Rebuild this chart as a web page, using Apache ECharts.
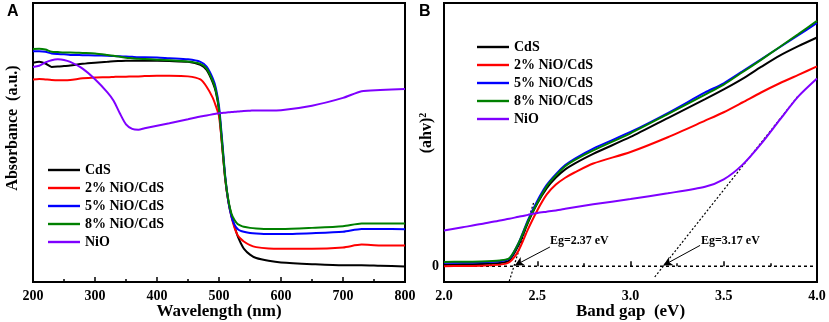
<!DOCTYPE html>
<html><head><meta charset="utf-8">
<script src="https://cdn.jsdelivr.net/npm/echarts@6/dist/echarts.min.js"></script>
<style>html,body{margin:0;padding:0;background:#fff}#c{width:829px;height:322px}</style>
</head><body><div id="c"></div>
<script>
// ---------- data ----------
const seriesNames = ['CdS', '2% NiO/CdS', '5% NiO/CdS', '8% NiO/CdS', 'NiO'];

// Panel A: UV-vis absorbance (a.u.)
const wavelength = [200,210,220,230,240,250,260,280,300,320,330,340,350,360,370,380,400,420,450,470,480,490,495,500,505,510,515,520,525,530,535,540,550,560,580,600,650,700,730,760,800];
const absCdS  = [.786,.789,.783,.771,.772,.774,.776,.782,.786,.789,.791,.792,.793,.793,.793,.793,.793,.792,.789,.778,.760,.715,.680,.615,.490,.370,.290,.240,.200,.165,.140,.120,.098,.086,.076,.070,.064,.060,.060,.058,.056];
const abs2    = [.726,.728,.726,.724,.723,.723,.724,.730,.733,.734,.735,.736,.736,.737,.737,.738,.739,.739,.737,.726,.700,.660,.630,.595,.490,.370,.290,.235,.195,.168,.155,.145,.132,.125,.120,.119,.119,.124,.134,.131,.131];
const abs5    = [.827,.827,.825,.819,.817,.816,.814,.813,.812,.811,.810,.809,.808,.807,.806,.806,.805,.802,.798,.789,.772,.730,.695,.630,.510,.380,.290,.235,.205,.190,.183,.180,.176,.174,.172,.172,.175,.180,.190,.190,.189];
const abs8    = [.835,.836,.833,.825,.824,.823,.823,.821,.819,.814,.811,.807,.804,.802,.800,.799,.797,.795,.790,.782,.765,.720,.685,.620,.500,.375,.295,.245,.222,.208,.202,.198,.194,.192,.190,.190,.194,.200,.210,.210,.210];
const absNiO  = [.771,.775,.787,.795,.798,.796,.789,.765,.727,.680,.650,.605,.565,.549,.546,.551,.560,.569,.583,.593,.597,.601,.603,.605,.606,.607,.608,.609,.610,.611,.612,.613,.614,.615,.615,.616,.632,.660,.684,.688,.692];

// Panel B: Tauc plot (ahv)^2
const bandGap = [2.0,2.1,2.2,2.3,2.35,2.4,2.45,2.5,2.55,2.6,2.65,2.7,2.8,3.0,3.2,3.4,3.5,3.6,3.7,3.8,3.9,4.0];
const taucCdS = [.006,.007,.008,.012,.022,.080,.165,.238,.296,.337,.368,.390,.427,.491,.563,.635,.672,.712,.757,.800,.836,.869];
const tauc2   = [.000,.001,.002,.006,.015,.060,.140,.212,.272,.310,.336,.356,.390,.434,.490,.553,.585,.622,.660,.695,.727,.759];
const tauc5   = [.013,.014,.015,.019,.028,.088,.175,.248,.308,.350,.384,.408,.447,.510,.582,.660,.695,.740,.786,.832,.878,.924];
const tauc8   = [.016,.017,.018,.022,.030,.088,.170,.240,.303,.345,.380,.403,.440,.505,.578,.652,.690,.737,.784,.833,.882,.932];
const taucNiO = [.136,.148,.160,.174,.180,.188,.195,.202,.207,.212,.218,.224,.235,.255,.277,.302,.330,.385,.465,.556,.645,.713];

// helper lines and annotations (panel B)
const baseline   = [[2.0, 0], [4.0, 0]];
const tangentCdS = [[2.35, -0.057], [2.48, 0.24]];
const tangentNiO = [[3.13, -0.041], [3.9, 0.648]];
const egLabels   = [{ name: 'Eg=2.37 eV', coord: [2.568, 0.098] }, { name: 'Eg=3.17 eV', coord: [3.378, 0.098] }];
const egArrows   = [[[2.568, 0.073], [2.38, 0.003]], [[3.373, 0.079], [3.176, 0.003]]];

// ---------- chart ----------
const colors = ['#000000', '#ff0000', '#0000ff', '#008000', '#7f00ff'];
const serif = '"Liberation Serif", "Times New Roman", serif';
const sans = '"Liberation Sans", Arial, sans-serif';
const pairs = (xs, ys) => xs.map((x, i) => [x, ys[i]]);

const absData = [absCdS, abs2, abs5, abs8, absNiO];
const taucData = [taucCdS, tauc2, tauc5, tauc8, taucNiO];

const lineSeries = (name, i, data, idx) => ({
  name, type: 'line', xAxisIndex: idx, yAxisIndex: idx, data,
  symbol: 'none', showSymbol: false, smooth: 0.25,
  lineStyle: { color: colors[i], width: 2 }, itemStyle: { color: colors[i] },
  z: 3
});

const series = [];
seriesNames.forEach((n, i) => series.push(lineSeries(n, i, pairs(wavelength, absData[i]), 0)));
seriesNames.forEach((n, i) => series.push(lineSeries(n, i, pairs(bandGap, taucData[i]), 1)));

series.push({
  type: 'line', xAxisIndex: 1, yAxisIndex: 1, data: baseline, symbol: 'none', z: 2,
  lineStyle: { color: '#000', width: 1.5, type: [3, 3] },
  markLine: {
    silent: true, animation: false, symbol: ['none', 'arrow'], symbolSize: [7, 9],
    lineStyle: { color: '#000', width: 1, type: 'solid' }, label: { show: false },
    data: egArrows.map(a => [{ coord: a[0] }, { coord: a[1] }])
  },
  markPoint: {
    silent: true, animation: false, symbol: 'circle', symbolSize: 0,
    label: { show: true, position: 'right', distance: 0, formatter: p => p.name,
      fontFamily: serif, fontWeight: 'bold', fontSize: 12, color: '#000' },
    data: egLabels
  }
});
series.push({ type: 'line', xAxisIndex: 1, yAxisIndex: 1, data: tangentCdS, symbol: 'none', z: 2,
  lineStyle: { color: '#000', width: 1.2, type: [2, 2] } });
series.push({ type: 'line', xAxisIndex: 1, yAxisIndex: 1, data: tangentNiO, symbol: 'none', z: 2,
  lineStyle: { color: '#000', width: 1.2, type: [2, 2] } });

const labelFont = { fontFamily: serif, fontWeight: 'bold', fontSize: 14, color: '#000' };
const nameFont = { fontFamily: serif, fontWeight: 'bold', fontSize: 17, color: '#000' };

const xAxisBase = {
  type: 'value', axisLine: { show: false },
  axisTick: { show: true, inside: true, length: 5, lineStyle: { color: '#000', width: 1.5 } },
  minorTick: { show: true, splitNumber: 2, length: 3, lineStyle: { color: '#000', width: 1.5 } },
  splitLine: { show: false }, minorSplitLine: { show: false },
  axisLabel: Object.assign({ margin: 7 }, labelFont),
  nameLocation: 'middle', nameGap: 21, nameMoveOverlap: false, nameTextStyle: nameFont
};

const legendBase = {
  data: seriesNames, orient: 'vertical', itemWidth: 32, itemHeight: 14, itemGap: 4,
  icon: 'path://M0,0H32V2.4H0Z',
  selectedMode: false, textStyle: Object.assign({}, labelFont)
};

const gridBase = { top: 3, height: 279, show: true, borderColor: '#000', borderWidth: 2,
  backgroundColor: 'transparent', containLabel: false, outerBoundsMode: 'none' };

const option = {
  animation: false,
  backgroundColor: '#fff',
  grid: [
    Object.assign({}, gridBase, { left: 33, width: 372 }),
    Object.assign({}, gridBase, { left: 444, width: 373 })
  ],
  xAxis: [
    Object.assign({}, xAxisBase, { gridIndex: 0, min: 200, max: 800, interval: 100, name: 'Wavelength (nm)' }),
    Object.assign({}, xAxisBase, { gridIndex: 1, min: 2.0, max: 4.0, interval: 0.5, name: 'Band gap  (eV)',
      axisLabel: Object.assign({ margin: 7, formatter: v => v.toFixed(1) }, labelFont) })
  ],
  yAxis: [
    { type: 'value', gridIndex: 0, min: 0, max: 1, axisLine: { show: false }, axisTick: { show: false },
      axisLabel: { show: false }, splitLine: { show: false } },
    { type: 'value', gridIndex: 1, min: -0.06, max: 1, interval: 0.06, axisLine: { show: false }, axisTick: { show: false },
      splitLine: { show: false },
      axisLabel: Object.assign({ margin: 5, formatter: v => (Math.abs(v) < 1e-9 ? '0' : '') }, labelFont) }
  ],
  legend: [
    Object.assign({}, legendBase, { left: 43, top: 158 }),
    Object.assign({}, legendBase, { left: 472, top: 35 })
  ],
  graphic: [
    { type: 'text', left: 7, top: 4, style: { text: 'A', font: 'bold 16px ' + sans, fill: '#000' } },
    { type: 'text', left: 419, top: 4, style: { text: 'B', font: 'bold 16px ' + sans, fill: '#000' } },
    { type: 'text', x: 13, y: 128, rotation: Math.PI / 2,
      style: { text: 'Absorbance  (a.u.)', font: 'bold 16px ' + serif, fill: '#000', align: 'center', verticalAlign: 'middle' } },
    { type: 'text', x: 427, y: 133, rotation: Math.PI / 2,
      style: { text: '{a|(ahv)}{b|2}', align: 'center', verticalAlign: 'middle', fill: '#000',
        rich: { a: { fontFamily: serif, fontWeight: 'bold', fontSize: 16, lineHeight: 18 },
                b: { fontFamily: serif, fontWeight: 'bold', fontSize: 10, lineHeight: 18, verticalAlign: 'top', padding: [0, 0, 8, 0] } } } }
  ],
  series
};

const chart = echarts.init(document.getElementById('c'), null, { renderer: 'canvas' });
chart.setOption(option);
</script>
</body></html>
